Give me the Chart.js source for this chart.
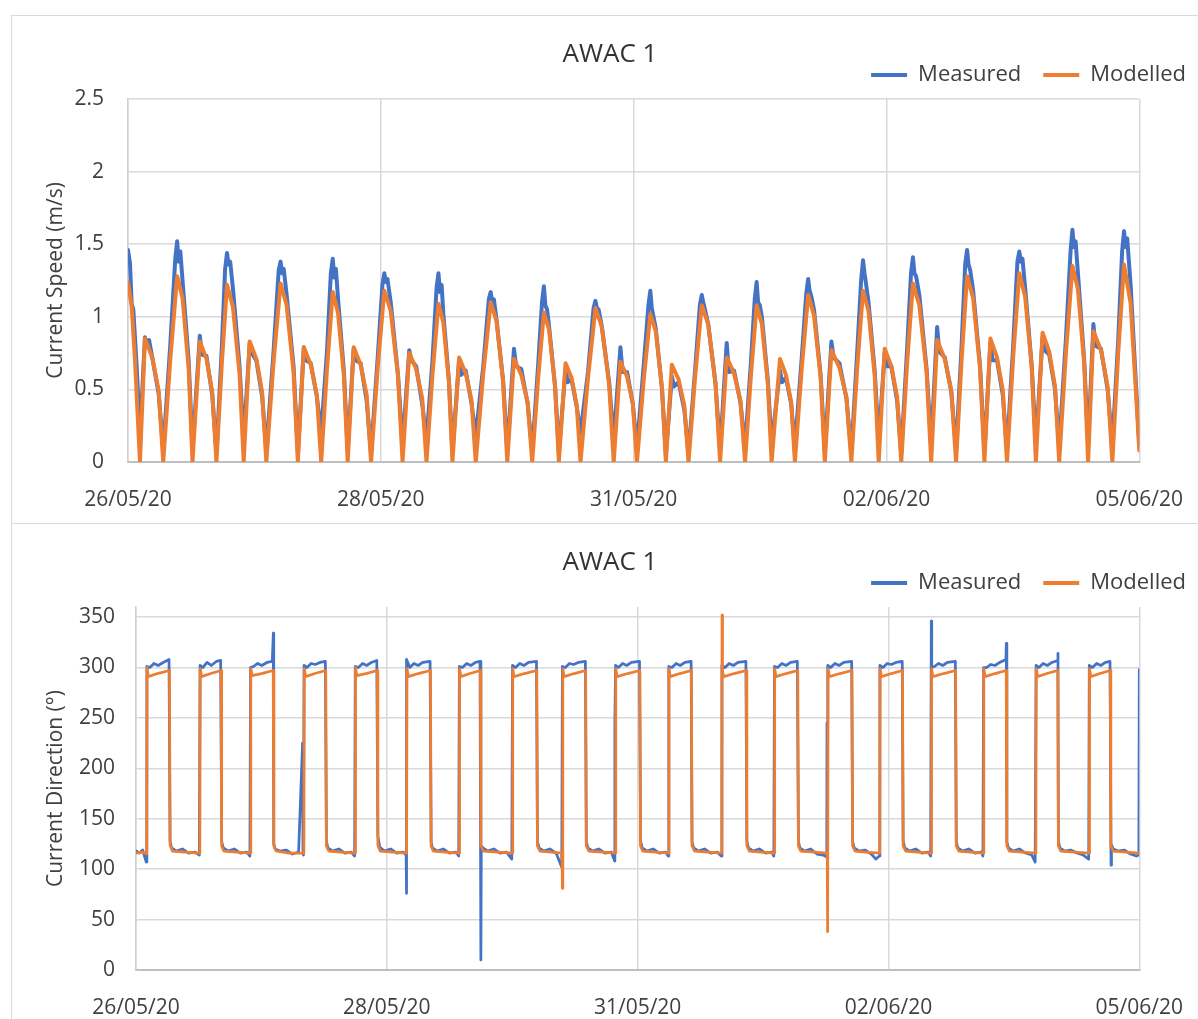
<!DOCTYPE html>
<html><head><meta charset="utf-8">
<script src="https://cdn.jsdelivr.net/npm/chart.js@4/dist/chart.umd.min.js"></script>
<style>
html,body{margin:0;padding:0;background:#fff;overflow:hidden;width:1198px;height:1019px;position:relative}
.box{position:absolute;left:11px;width:1198px;height:509px;border:1px solid #d9d9d9;box-sizing:border-box;background:#fff}
#b1{top:15px}
#b2{top:523px}
canvas{display:block}
</style></head><body>
<div class="box" id="b1"><canvas id="c1" width="1196" height="507"></canvas></div>
<div class="box" id="b2"><canvas id="c2" width="1196" height="507"></canvas></div>
<script>
// ---- data (x = hours after 26/05/20 00:00) ----
const seriesNames = ['Measured', 'Modelled'];
const chartTitles = ['AWAC 1', 'AWAC 1'];
const yAxisTitles = ['Current Speed (m/s)', 'Current Direction (°)'];
const xTickHours = [0, 60, 120, 180, 240];
const xTickLabels = ['26/05/20', '28/05/20', '31/05/20', '02/06/20', '05/06/20'];
const speedTicks = [0, 0.5, 1, 1.5, 2, 2.5];
const directionTicks = [0, 50, 100, 150, 200, 250, 300, 350];

const modelledSpeed = [
[0,1.24],[0.87,1.07],[1.66,0.70],[2.84,0],[4.02,0.85],[5.76,0.72],[7.28,0.49],
[8.36,0],[10.02,0.70],[11.67,1.28],[12.94,1.13],[14.40,0.64],[15.31,0],[17.04,0.83],[18.62,0.71],[20.00,0.48],
[20.99,0],[22.25,0.67],[23.50,1.22],[24.89,1.07],[26.47,0.61],[27.46,0],[28.88,0.83],[30.46,0.71],[31.84,0.48],
[32.83,0],[34.52,0.68],[36.21,1.23],[37.65,1.08],[39.29,0.62],[40.31,0],[41.73,0.79],[43.38,0.67],[44.82,0.46],
[45.85,0],[47.22,0.64],[48.59,1.17],[49.83,1.03],[51.25,0.59],[52.14,0],[53.56,0.79],[55.21,0.67],[56.65,0.46],
[57.68,0],[59.26,0.65],[60.83,1.18],[62.35,1.04],[64.08,0.59],[65.16,0],[66.75,0.75],[68.39,0.64],[69.82,0.44],
[70.84,0],[72.26,0.60],[73.68,1.09],[74.84,0.96],[76.17,0.55],[77.00,0],[78.58,0.72],[80.16,0.61],[81.54,0.42],
[82.53,0],[84.31,0.61],[86.08,1.10],[87.46,0.97],[89.03,0.55],[90.01,0],[91.60,0.71],[93.33,0.60],[94.85,0.41],
[95.93,0],[97.32,0.57],[98.70,1.03],[99.94,0.91],[101.36,0.52],[102.25,0],[103.84,0.68],[105.26,0.58],[106.50,0.39],
[107.39,0],[109.17,0.58],[110.94,1.06],[112.46,0.93],[114.19,0.53],[115.27,0],[116.86,0.69],[118.43,0.59],[119.81,0.40],
[120.79,0],[122.38,0.56],[123.96,1.02],[125.25,0.90],[126.73,0.51],[127.65,0],[129.07,0.67],[130.65,0.57],[132.03,0.39],
[133.02,0],[134.60,0.59],[136.17,1.08],[137.69,0.95],[139.43,0.54],[140.52,0],[142.09,0.72],[143.83,0.61],[145.35,0.42],
[146.44,0],[147.82,0.59],[149.19,1.08],[150.43,0.95],[151.85,0.54],[152.74,0],[154.73,0.71],[156.15,0.60],[157.39,0.41],
[158.27,0],[159.85,0.63],[161.42,1.15],[162.80,1.01],[164.38,0.58],[165.37,0],[166.94,0.77],[168.83,0.65],[170.49,0.45],
[171.67,0],[173.06,0.65],[174.44,1.18],[175.74,1.04],[177.23,0.59],[178.16,0],[179.58,0.78],[181.15,0.66],[182.53,0.45],
[183.51,0],[184.90,0.68],[186.28,1.23],[187.80,1.08],[189.53,0.62],[190.61,0],[192.03,0.84],[193.83,0.71],[195.40,0.49],
[196.52,0],[197.83,0.70],[199.13,1.28],[200.57,1.13],[202.22,0.64],[203.25,0],[204.67,0.85],[206.24,0.72],[207.62,0.49],
[208.60,0],[210.07,0.72],[211.53,1.30],[212.91,1.14],[214.48,0.65],[215.46,0],[217.05,0.89],[218.63,0.76],[220.01,0.52],
[220.99,0],[222.57,0.74],[224.14,1.35],[225.44,1.19],[226.93,0.68],[227.86,0],[229.11,0.90],[230.91,0.77],[232.49,0.52],
[233.61,0],[235.00,0.75],[236.38,1.36],[237.95,1.09],[239.13,0.52],[240,0.08]
];

const measuredSpeed = [
[0,1.46],[0.47,1.37],[0.87,1.09],[1.26,1.05],[2.05,0.66],[2.84,0.18],[4.02,0.86],[4.5,0.80],[5.0,0.84],[5.76,0.72],[7.28,0.47],
[8.36,0.08],[10.02,0.80],[11.22,1.40],[11.67,1.52],[12.02,1.38],[12.42,1.45],[12.94,1.25],[14.40,0.70],[15.31,0.08],[17.04,0.87],[17.54,0.74],[18.62,0.73],[20.00,0.46],
[20.99,0.06],[22.25,0.78],[23.05,1.33],[23.50,1.44],[23.85,1.36],[24.25,1.38],[24.89,1.20],[26.47,0.66],[27.46,0.15],[28.88,0.82],[29.38,0.75],[30.46,0.70],[31.84,0.45],
[32.83,0.08],[34.52,0.75],[35.76,1.32],[36.21,1.38],[36.56,1.30],[36.96,1.33],[37.65,1.15],[39.29,0.66],[40.31,0.06],[41.73,0.79],[42.23,0.70],[43.38,0.68],[44.82,0.45],
[45.85,0.20],[47.22,0.76],[48.14,1.30],[48.59,1.40],[48.94,1.27],[49.34,1.33],[49.83,1.13],[51.25,0.62],[52.14,0.08],[53.56,0.78],[54.06,0.70],[55.21,0.68],[56.65,0.42],
[57.68,0.06],[59.26,0.72],[60.38,1.22],[60.83,1.30],[61.18,1.24],[61.58,1.26],[62.35,1.10],[64.08,0.60],[65.16,0.12],[66.75,0.77],[67.25,0.70],[68.39,0.66],[69.82,0.40],
[70.84,0.15],[72.26,0.70],[73.23,1.20],[73.68,1.30],[74.03,1.17],[74.43,1.22],[74.84,1.02],[76.17,0.56],[77.00,0.07],[78.58,0.70],[79.08,0.60],[80.16,0.63],[81.54,0.40],
[82.53,0.18],[84.31,0.66],[85.63,1.12],[86.08,1.17],[86.43,1.10],[86.83,1.12],[87.46,0.98],[89.03,0.56],[90.01,0.07],[91.60,0.78],[92.10,0.66],[93.33,0.64],[94.85,0.40],
[95.93,0.07],[97.32,0.66],[98.25,1.10],[98.70,1.21],[99.05,1.08],[99.45,1.05],[99.94,0.93],[101.36,0.52],[102.25,0.07],[103.84,0.64],[104.34,0.55],[105.26,0.57],[106.50,0.38],
[107.39,0.20],[109.17,0.62],[110.49,1.06],[110.94,1.11],[111.29,1.06],[111.69,1.05],[112.46,0.93],[114.19,0.55],[115.27,0.15],[116.86,0.79],[117.36,0.62],[118.43,0.62],[119.81,0.40],
[120.79,0.10],[122.38,0.66],[123.51,1.08],[123.96,1.18],[124.31,1.06],[124.71,1.00],[125.25,0.92],[126.73,0.50],[127.65,0.05],[129.07,0.59],[129.57,0.52],[130.65,0.55],[132.03,0.36],
[133.02,0.06],[134.60,0.64],[135.72,1.08],[136.17,1.15],[136.52,1.10],[136.92,1.05],[137.69,0.95],[139.43,0.54],[140.52,0.08],[142.09,0.82],[142.59,0.62],[143.83,0.63],[145.35,0.41],
[146.44,0.10],[147.82,0.68],[148.74,1.12],[149.19,1.24],[149.54,1.10],[149.94,1.08],[150.43,1.00],[151.85,0.56],[152.74,0.12],[154.73,0.63],[155.23,0.55],[156.15,0.58],[157.39,0.40],
[158.27,0.10],[159.85,0.70],[160.97,1.16],[161.42,1.26],[161.77,1.18],[162.17,1.14],[162.80,1.05],[164.38,0.60],[165.37,0.07],[166.94,0.83],[167.44,0.72],[168.83,0.68],[170.49,0.44],
[171.67,0.06],[173.06,0.76],[173.99,1.25],[174.44,1.39],[174.79,1.30],[175.19,1.22],[175.74,1.10],[177.23,0.62],[178.16,0.15],[179.58,0.75],[180.08,0.66],[181.15,0.66],[182.53,0.42],
[183.51,0.06],[184.90,0.78],[185.83,1.30],[186.28,1.41],[186.63,1.30],[187.03,1.28],[187.80,1.15],[189.53,0.64],[190.61,0.12],[192.03,0.93],[192.53,0.76],[193.83,0.72],[195.40,0.48],
[196.52,0.08],[197.83,0.80],[198.68,1.36],[199.13,1.46],[199.48,1.36],[199.88,1.32],[200.57,1.18],[202.22,0.66],[203.25,0.07],[204.67,0.82],[205.17,0.70],[206.24,0.70],[207.62,0.46],
[208.60,0.08],[210.07,0.80],[211.08,1.38],[211.53,1.45],[211.88,1.38],[212.28,1.40],[212.91,1.20],[214.48,0.66],[215.46,0.12],[217.05,0.86],[217.55,0.77],[218.63,0.74],[220.01,0.50],
[220.99,0.10],[222.57,0.84],[223.69,1.45],[224.14,1.60],[224.49,1.48],[224.89,1.52],[225.44,1.30],[226.93,0.70],[227.86,0.12],[229.11,0.95],[229.61,0.80],[230.91,0.78],[232.49,0.50],
[233.61,0.12],[235.00,0.84],[235.93,1.45],[236.38,1.59],[236.73,1.48],[237.13,1.54],[237.95,1.22],[239.13,0.58],[240,0.12]
];

const modelledDirection = [
[0,116],[1.4,117],
[2.55,115],[2.65,300],[2.95,291],[5.1,294],[8.0,297],[8.16,124],[8.7,118],[11.6,117],
[15.27,116],[15.37,299],[15.67,291],[17.9,294],[20.34,297],[20.49,123],[21.0,118],[24.0,117],
[27.36,116],[27.46,299],[27.76,292],[30.0,294],[32.82,297],[32.97,123],[33.5,118],[36.5,116],
[40.16,116],[40.26,299],[40.56,291],[42.8,294],[45.39,297],[45.54,123],[46.1,118],[49.0,117],
[52.41,116],[52.51,300],[52.81,292],[55.0,294],[57.71,297],[57.86,124],[58.4,118],[61.3,117],
[64.73,116],[64.83,299],[65.13,291],[67.5,294],[70.44,297],[70.59,123],[71.1,118],[74.0,117],
[77.30,116],[77.40,299],[77.70,291],[79.9,294],[82.37,297],[82.52,123],[83.1,118],[86.5,117],
[90.02,116],[90.12,299],[90.42,291],[92.9,294],[95.88,297],[96.03,123],[96.6,118],[99.3,117],
[101.9,116],[102.0,81],[102.1,299],[102.4,291],[104.8,294],[107.57,297],[107.72,123],[108.3,118],[111.5,117],
[114.67,116],[114.77,299],[115.07,291],[117.6,294],[120.54,297],[120.69,123],[121.2,118],[124.3,117],
[127.40,116],[127.50,299],[127.80,291],[130.1,294],[132.86,297],[133.01,123],[133.6,118],[136.8,117],
[140.12,116],[140.2,352],[140.3,296],[140.6,291],[143.1,294],[145.98,297],[146.13,123],[146.7,118],[149.4,117],
[152.68,116],[152.78,299],[153.08,291],[155.5,294],[158.31,297],[158.46,123],[159.0,118],[162.2,117],
[165.35,116],[165.45,38],[165.55,299],[165.85,291],[168.4,294],[171.27,297],[171.42,123],[172.0,118],[174.6,117],
[177.90,116],[178.0,299],[178.3,291],[180.7,294],[183.36,297],[183.51,123],[184.1,118],[187.0,117],
[190.21,116],[190.31,299],[190.61,291],[193.2,294],[196.07,297],[196.22,123],[196.8,118],[199.5,117],
[202.71,116],[202.81,299],[203.11,291],[205.5,294],[208.17,297],[208.32,123],[208.9,118],[212.0,117],
[215.26,116],[215.36,299],[215.66,291],[217.9,294],[220.50,297],[220.65,123],[221.2,118],[224.6,117],
[227.99,116],[228.09,299],[228.39,291],[230.6,294],[233.05,297],[233.2,123],[233.8,118],[236.8,117],[240,116]
];

const measuredDirection = [
[0,118],[0.8,116],[1.6,119],[2.45,107],
[2.6,301],[3.3,300],[4.3,304],[5.3,302],[6.5,305],[7.9,308],[8.15,128],[8.5,121],[9.6,118],[11.1,120],[12.6,116],[14.1,117],[15.15,114],
[15.32,302],[16.0,300],[17.0,305],[18.0,302],[19.2,306],[20.25,307],[20.5,127],[20.9,121],[22.0,118],[23.5,120],[25.0,116],[26.5,117],[27.25,113],
[27.4,300],[28.1,301],[29.1,304],[30.1,302],[31.3,305],[32.6,306],[32.85,334],[32.95,125],[33.3,120],[34.4,118],[35.9,119],[37.4,115],[38.9,117],[39.85,225],[39.95,116],[40.05,114],
[40.2,302],[40.9,300],[41.9,304],[42.9,303],[44.0,305],[45.3,306],[45.55,128],[45.9,121],[47.0,118],[48.5,120],[50.0,116],[51.5,117],[52.3,113],
[52.45,301],[53.2,300],[54.2,304],[55.2,302],[56.3,305],[57.6,307],[57.86,133],[58.3,122],[59.4,118],[60.9,120],[62.4,116],[63.9,117],[64.62,114],[64.66,76],
[64.78,308],[65.5,300],[66.5,304],[67.5,302],[68.6,305],[70.35,306],[70.6,127],[70.9,121],[72.0,118],[73.5,120],[75.0,116],[76.5,117],[77.2,113],
[77.35,301],[78.1,300],[79.1,304],[80.1,302],[81.2,305],[82.3,306],[82.5,10],[82.6,123],[83.0,121],[84.1,118],[85.6,120],[87.1,116],[88.6,117],[89.9,110],
[90.07,302],[90.8,300],[91.8,304],[92.8,302],[93.9,305],[95.8,306],[96.03,128],[96.4,121],[97.5,118],[99.0,120],[100.5,116],[101.85,102],
[102.0,301],[102.7,300],[103.7,304],[104.7,303],[105.8,305],[107.5,306],[107.72,127],[108.1,121],[109.2,118],[110.7,120],[112.2,116],[113.7,117],[114.5,108],[114.55,245],
[114.72,302],[115.4,300],[116.4,304],[117.4,302],[118.5,305],[120.45,306],[120.7,128],[121.1,121],[122.2,118],[123.7,120],[125.2,116],[126.7,117],[127.3,113],
[127.45,301],[128.2,300],[129.2,304],[130.2,302],[131.3,305],[132.8,306],[133.01,127],[133.4,121],[134.5,118],[136.0,120],[137.5,116],[139.0,117],[140.0,113],
[140.17,302],[140.9,300],[141.9,304],[142.9,302],[144.0,305],[145.9,306],[146.13,128],[146.5,121],[147.6,118],[149.1,120],[150.6,116],[152.1,117],[152.58,113],
[152.73,301],[153.5,300],[154.5,304],[155.5,302],[156.6,305],[158.2,306],[158.46,128],[158.8,121],[159.9,118],[161.4,120],[162.9,115],[164.4,114],[165.25,112],[165.3,245],
[165.48,302],[166.2,300],[167.2,304],[168.2,302],[169.3,305],[171.2,306],[171.42,128],[171.8,121],[172.9,118],[174.4,119],[175.9,115],[177.0,110],[177.8,113],
[177.95,302],[178.7,300],[179.7,304],[180.7,303],[181.8,305],[183.3,306],[183.51,128],[183.9,121],[185.0,118],[186.5,120],[188.0,116],[189.5,117],[190.1,113],
[190.25,346],[190.35,300],[191.0,301],[192.0,304],[193.0,302],[194.1,305],[196.0,306],[196.22,128],[196.6,121],[197.7,118],[199.2,120],[200.7,116],[202.2,117],[202.6,113],
[202.76,300],[203.5,300],[204.5,303],[205.5,302],[206.6,305],[208.1,308],[208.2,324],[208.32,127],[208.7,121],[209.8,118],[211.3,120],[212.8,116],[214.3,114],[215.1,107],
[215.31,302],[216.0,300],[217.0,304],[218.0,302],[219.1,305],[220.5,307],[220.55,314],[220.65,128],[221.0,121],[222.1,118],[223.6,119],[225.1,116],[226.6,114],[227.9,110],
[228.04,302],[228.8,300],[229.8,304],[230.8,302],[231.9,305],[233.0,306],[233.25,104],[233.35,124],[233.8,120],[234.9,118],[236.4,119],[237.9,115],[239.3,113],[239.9,114],[240,298]
];

// ---- styling ----
const seriesColors = ['#4472C4', '#ED7D31'];
const FONT = "'Open Sans', 'Noto Sans', sans-serif";
Chart.defaults.font.family = FONT;
const textColor = '#404040';

function toXY(arr) { return arr.map(p => ({ x: p[0], y: p[1] })); }

function buildChart(id, measured, modelled, title, yTitle, yMin, yMax, yTicks, yWidth, yPad, lw) {
  return new Chart(document.getElementById(id), {
    type: 'line',
    data: {
      datasets: [
        { label: seriesNames[0], data: toXY(measured), borderColor: seriesColors[0], backgroundColor: seriesColors[0],
          borderWidth: lw, pointRadius: 0, order: 1, borderJoinStyle: 'round', borderCapStyle: 'round' },
        { label: seriesNames[1], data: toXY(modelled), borderColor: seriesColors[1], backgroundColor: seriesColors[1],
          borderWidth: lw, pointRadius: 0, order: 0, borderJoinStyle: 'round', borderCapStyle: 'round' }
      ]
    },
    options: {
      responsive: false, animation: false, devicePixelRatio: 1,
      layout: { padding: 0 },
      plugins: {
        title: { display: true, text: title, color: '#333333', font: { size: 26, weight: 'normal', lineHeight: 1.2 },
                 padding: { top: 23, bottom: -28.2 } },
        subtitle: { display: true, text: '', weight: 100, font: { size: 3, lineHeight: 1 }, padding: 0 },
        legend: {
          display: true, position: 'top', align: 'end',
          labels: {
            boxWidth: 36, boxHeight: 4, padding: 22, color: textColor, font: { size: 22 },
            generateLabels: (chart) => {
              const items = Chart.defaults.plugins.legend.labels.generateLabels(chart);
              items.forEach(it => { it.lineWidth = 0; it.fillStyle = chart.data.datasets[it.datasetIndex].borderColor; });
              return items.sort((a, b) => a.datasetIndex - b.datasetIndex);
            }
          }
        },
        tooltip: { enabled: false }
      },
      scales: {
        x: {
          type: 'linear', min: 0, max: 240,
          afterBuildTicks: s => { s.ticks = xTickHours.map(v => ({ value: v })); },
          afterFit: s => { s.height = 61; },
          ticks: { autoSkip: false, maxRotation: 0, minRotation: 0, padding: 25, color: textColor, font: { size: 21 },
                   callback: (v, i) => xTickLabels[i] },
          grid: { color: '#d9d9d9', lineWidth: 1.5, drawTicks: false },
          border: { color: '#bfbfbf', width: 2 }
        },
        y: {
          type: 'linear', position: 'left', min: yMin, max: yMax,
          afterBuildTicks: s => { s.ticks = yTicks.map(v => ({ value: v })); },
          afterFit: s => { s.width = yWidth; },
          title: { display: true, text: yTitle, color: textColor, font: { size: 21 }, padding: { top: 31, bottom: 0 } },
          ticks: { padding: yPad, color: textColor, font: { size: 21 }, autoSkip: false, callback: v => String(v) },
          grid: { color: '#d9d9d9', lineWidth: 1.5, drawTicks: false },
          border: { color: '#d0d0d0', width: 1.5 }
        },
        yR: {
          type: 'linear', position: 'right', display: true,
          grid: { display: false }, border: { display: false }, ticks: { display: false },
          afterFit: s => { s.width = 66; }
        }
      }
    }
  });
}

buildChart('c1', measuredSpeed, modelledSpeed, chartTitles[0], yAxisTitles[0], 0, 2.5, speedTicks, 116, 24, 4);
buildChart('c2', measuredDirection, modelledDirection, chartTitles[1], yAxisTitles[1], 0, 360, directionTicks, 124, 21, 2.75);
</script>
</body></html>
